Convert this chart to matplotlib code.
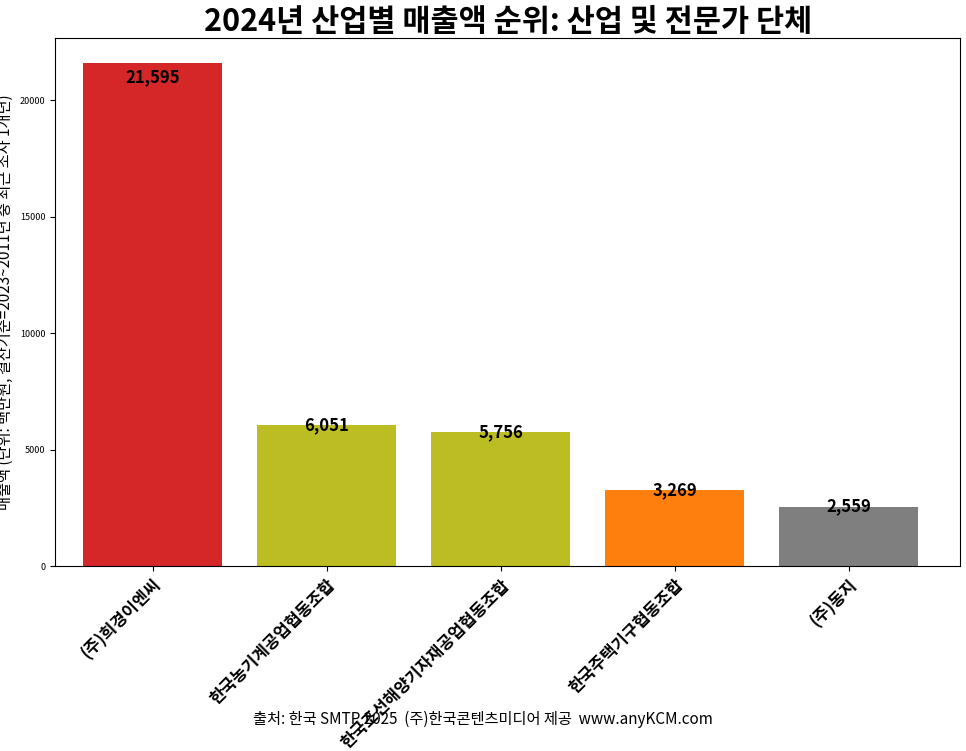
import matplotlib
matplotlib.use("Agg")
import matplotlib.pyplot as plt
from matplotlib import font_manager

names = sorted({f.name for f in font_manager.fontManager.ttflist if "CJK" in f.name})
pref = [n for n in names if "KR" in n] + names
plt.rcParams["font.family"] = (pref[:1] if pref else []) + ["DejaVu Sans"]

companies = ["(주)희경이엔씨", "한국농기계공업협동조합", "한국조선해양기자재공업협동조합", "한국주택기구협동조합", "(주)동지"]
revenues = [21595, 6051, 5756, 3269, 2559]
colors = ["#d62728", "#bcbd22", "#bcbd22", "#ff7f0e", "#7f7f7f"]

fig = plt.figure(figsize=(9.66, 7.51), dpi=100)
ax = fig.add_axes([0.057, 0.246, 0.937, 0.703])
x = range(len(companies))
ax.bar(x, revenues, color=colors, width=0.8)
ax.set_xlim(-0.56, 4.64)
ax.set_ylim(0, 22660)
ymax = ax.get_ylim()[1]
for xi, v in zip(x, revenues):
    if v > ymax * 0.9:
        ax.annotate(f"{v:,}", (xi, v), xytext=(0, -4), textcoords="offset points",
                    ha="center", va="top", fontsize=12, fontweight="bold")
    else:
        ax.text(xi, v, f"{v:,}", ha="center", va="center", fontsize=12, fontweight="bold")
ax.set_xticks(list(x))
ax.set_xticklabels(companies, rotation=45, ha="right", rotation_mode="anchor",
                   fontsize=12, fontweight="bold")
ax.tick_params(axis="y", labelsize=6.5)
ax.set_ylabel("매출액 (단위: 백만원, 결산기준=2023~2011년 중 최근 조사 1개년)", fontsize=11)
ax.set_title("2024년 산업별 매출액 순위: 산업 및 전문가 단체", fontsize=22, fontweight="bold", pad=4)
fig.text(0.5, 0.042, "출처: 한국 SMTP 2025  (주)한국콘텐츠미디어 제공  www.anyKCM.com",
         ha="center", va="center", fontsize=11)
fig.savefig("out.png", dpi=100)
